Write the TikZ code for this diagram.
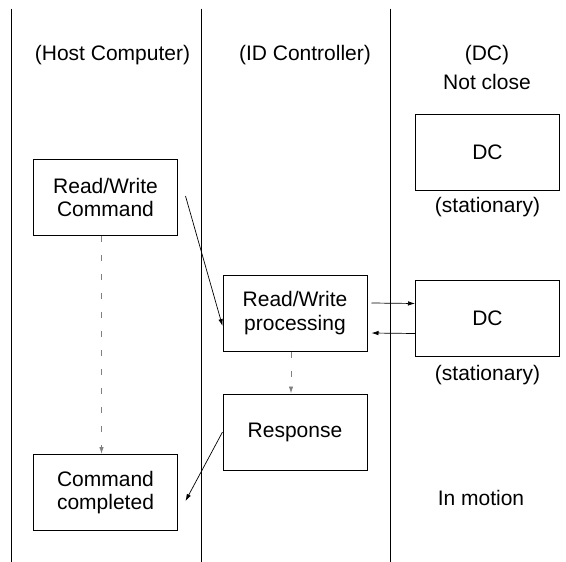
\documentclass[tikz,border=0pt]{standalone}
\usepackage{fontspec}
\setmainfont{Liberation Sans}
\usetikzlibrary{arrows.meta, positioning}

\begin{document}
\begin{tikzpicture}[
                x=1pt, y=-1pt,
                font=\fontsize{21}{23.5}\selectfont,
                box/.style={draw, line width=1pt, minimum width=144pt, minimum height=76pt, inner sep=0pt, align=center},
                note/.style={inner sep=0pt},
                lane/.style={line width=1pt},
                flow/.style={line width=0.7pt, -{Latex[length=7pt, width=4.5pt]}},
                wait/.style={line width=0.9pt, gray, dash pattern=on 6pt off 13pt, -{Latex[length=7pt, width=4.5pt]}},
            ]

                \useasboundingbox (0,0) rectangle (566,562);

                % Lanes
                \coordinate (lane1top) at (11,8.5);
                \coordinate (lane1bot) at (11,562);
                \coordinate (lane2top) at (201.5,8.5);
                \coordinate (lane2bot) at (201.5,562);
                \coordinate (lane3top) at (390.5,8.5);
                \coordinate (lane3bot) at (390.5,562);
                \draw[lane] (lane1top) -- (lane1bot);
                \draw[lane] (lane2top) -- (lane2bot);
                \draw[lane] (lane3top) -- (lane3bot);

                % Headings
                \node (hhost) at (112.5,55) {(Host Computer)};
                \node (hid) at (305,55) {(ID Controller)};
                \node (hdc) at (487,55) {(DC)};
                \node (notclose) at (487,82) {Not close};

                % Boxes
                \node[box] (rwcmd) at (105.5,197.5) {Read/Write\\Command};
                \node[box] (cmddone) at (105.5,492.5) {Command\\completed};
                \node[box] (rwproc) at (295,313) {Read/Write\\processing};
                \node[box] (resp) at (295,432) {Response};
                \node[box] (dcfar) at (487.5,152) {DC};
                \node[box] (dcnear) at (487.5,318.5) {DC};

                % Labels
                \node[note, below=7pt of dcfar] (farlbl) {(stationary)};
                \node[note, below=8pt of dcnear] (nearlbl) {(stationary)};
                \node (motion) at (481,497.5) {In motion};

                % Connectors
                \draw[flow] ([xshift=7.5pt, yshift=1.5pt]rwcmd.east) -- ([yshift=-13pt]rwproc.west);
                \draw[flow] ([xshift=4pt, yshift=10pt]rwproc.east) -- ([yshift=15pt]dcnear.west);
                \draw[flow] ([yshift=-15pt]dcnear.west) -- ([xshift=4pt, yshift=-20pt]rwproc.east);
                \draw[flow] (resp.west) -- ([xshift=7.5pt, yshift=-8.5pt]cmddone.east);
                \draw[wait] ([xshift=-4pt]rwcmd.south) -- ([xshift=-4pt]cmddone.north);
                \draw[wait] ([xshift=-4pt]rwproc.south) -- ([xshift=-4pt]resp.north);
            \end{tikzpicture}
\end{document}
